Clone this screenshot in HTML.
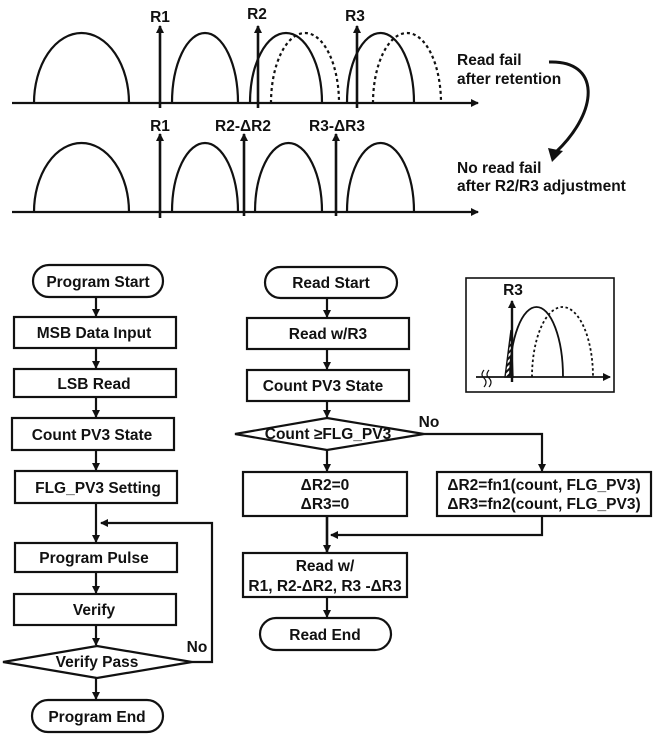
<!DOCTYPE html>
<html><head><meta charset="utf-8"><style>
html,body{margin:0;padding:0;background:#fff}
svg{display:block}
text{font-family:"Liberation Sans",Arial,sans-serif;font-weight:bold;fill:#111}
</style></head><body>
<svg width="657" height="735" viewBox="0 0 657 735" xmlns="http://www.w3.org/2000/svg">
<defs>
<marker id="ah" markerWidth="8" markerHeight="8" refX="7" refY="4" orient="auto" markerUnits="userSpaceOnUse"><path d="M0,0 L8,4 L0,8 z" fill="#111"/></marker>
<pattern id="hatch" width="4" height="4" patternUnits="userSpaceOnUse" patternTransform="rotate(45)"><rect width="4" height="4" fill="#fff"/><rect width="2" height="4" fill="#111"/></pattern>
</defs>
<g stroke="#111" fill="none" stroke-width="2.2">
<line x1="12" y1="103" x2="478" y2="103" marker-end="url(#ah)"/>
<path d="M34,103 A47.5,70 0 0 1 129,103"/>
<path d="M172,103 A33,70 0 0 1 238,103"/>
<path d="M250,103 A36,70 0 0 1 322,103"/>
<path d="M347,103 A33.5,70 0 0 1 414,103"/>
<path d="M271,103 A34,70 0 0 1 339,103" stroke-dasharray="3,3"/>
<path d="M373,103 A34,70 0 0 1 441,103" stroke-dasharray="3,3"/>
<line x1="160" y1="108" x2="160" y2="26" marker-end="url(#ah)" stroke-width="2.6"/>
<line x1="258" y1="108" x2="258" y2="26" marker-end="url(#ah)" stroke-width="2.6"/>
<line x1="357" y1="108" x2="357" y2="26" marker-end="url(#ah)" stroke-width="2.6"/>
<line x1="12" y1="212" x2="478" y2="212" marker-end="url(#ah)"/>
<path d="M34,212 A47.5,69 0 0 1 129,212"/>
<path d="M172,212 A33,69 0 0 1 238,212"/>
<path d="M255,212 A33.5,69 0 0 1 322,212"/>
<path d="M347,212 A33.5,69 0 0 1 414,212"/>
<line x1="160" y1="218" x2="160" y2="134" marker-end="url(#ah)" stroke-width="2.6"/>
<line x1="244" y1="216" x2="244" y2="134" marker-end="url(#ah)" stroke-width="2.6"/>
<line x1="336" y1="216" x2="336" y2="134" marker-end="url(#ah)" stroke-width="2.6"/>
<path d="M549,62 C600,60 600,110 556,152" stroke-width="3"/>
<path d="M548,148 L563,151 L552,162 z" fill="#111" stroke="none"/>

<rect x="33" y="265" width="130" height="32" rx="16"/>
<rect x="14" y="317" width="162" height="31"/>
<rect x="14" y="369" width="162" height="28"/>
<rect x="12" y="418" width="162" height="32"/>
<rect x="15" y="471" width="162" height="32"/>
<rect x="15" y="543" width="162" height="29"/>
<rect x="14" y="594" width="162" height="31"/>
<path d="M3,662 L97,646 L192,662 L97,678 z"/>
<rect x="32" y="700" width="131" height="32" rx="16"/>
<line x1="96" y1="297" x2="96" y2="316" marker-end="url(#ah)"/>
<line x1="96" y1="348" x2="96" y2="368" marker-end="url(#ah)"/>
<line x1="96" y1="397" x2="96" y2="417" marker-end="url(#ah)"/>
<line x1="96" y1="450" x2="96" y2="470" marker-end="url(#ah)"/>
<line x1="96" y1="503" x2="96" y2="542" marker-end="url(#ah)"/>
<line x1="96" y1="572" x2="96" y2="593" marker-end="url(#ah)"/>
<line x1="96" y1="625" x2="96" y2="645" marker-end="url(#ah)"/>
<line x1="96" y1="678" x2="96" y2="699" marker-end="url(#ah)"/>
<polyline points="192,662 212,662 212,523 101,523" marker-end="url(#ah)"/>

<rect x="265" y="267" width="132" height="31" rx="15.5"/>
<rect x="247" y="318" width="162" height="31"/>
<rect x="247" y="370" width="162" height="31"/>
<path d="M235,434 L327,418 L424,434 L327,450 z"/>
<rect x="243" y="472" width="164" height="44"/>
<rect x="437" y="472" width="214" height="44"/>
<rect x="243" y="553" width="164" height="44"/>
<rect x="260" y="618" width="131" height="32" rx="16"/>
<line x1="327" y1="298" x2="327" y2="317" marker-end="url(#ah)"/>
<line x1="327" y1="349" x2="327" y2="369" marker-end="url(#ah)"/>
<line x1="327" y1="401" x2="327" y2="417" marker-end="url(#ah)"/>
<line x1="327" y1="450" x2="327" y2="471" marker-end="url(#ah)"/>
<line x1="327" y1="516" x2="327" y2="552" marker-end="url(#ah)" stroke-width="2.6"/>
<line x1="327" y1="597" x2="327" y2="617" marker-end="url(#ah)"/>
<polyline points="424,434 542,434 542,471" marker-end="url(#ah)"/>
<polyline points="542,516 542,535 331,535" marker-end="url(#ah)"/>

<rect x="466" y="278" width="148" height="114" stroke-width="1.6"/>
<line x1="476" y1="377" x2="610" y2="377" marker-end="url(#ah)" stroke-width="1.8"/>
<path d="M505,377 L511,330 L513,377 z" fill="url(#hatch)" stroke-width="1.4"/>
<path d="M510,377 A26.5,70 0 0 1 563,377" stroke-width="1.8"/>
<path d="M532,377 A30.5,70 0 0 1 593,377" stroke-dasharray="2.5,2.5" stroke-width="1.8"/>
<line x1="512" y1="382" x2="512" y2="301" marker-end="url(#ah)" stroke-width="2.4"/>
<path d="M484,370 q-4,5 0,8 q4,4 0,9 M489,370 q-4,5 0,8 q4,4 0,9" stroke-width="1.2"/>
</g>

<g font-size="15.5">
<text x="160" y="22" text-anchor="middle">R1</text>
<text x="257" y="19" text-anchor="middle">R2</text>
<text x="355" y="21" text-anchor="middle">R3</text>
<text x="160" y="131" text-anchor="middle">R1</text>
<text x="243" y="131" text-anchor="middle">R2-ΔR2</text>
<text x="337" y="131" text-anchor="middle">R3-ΔR3</text>
<text x="457" y="65">Read fail</text>
<text x="457" y="84">after retention</text>
<text x="457" y="173">No read fail</text>
<text x="457" y="191">after R2/R3 adjustment</text>

<text x="98" y="287" text-anchor="middle">Program Start</text>
<text x="94" y="338" text-anchor="middle">MSB Data Input</text>
<text x="94" y="389" text-anchor="middle">LSB Read</text>
<text x="92" y="440" text-anchor="middle">Count PV3 State</text>
<text x="98" y="493" text-anchor="middle">FLG_PV3 Setting</text>
<text x="94" y="563" text-anchor="middle">Program Pulse</text>
<text x="94" y="615" text-anchor="middle">Verify</text>
<text x="97" y="667" text-anchor="middle">Verify Pass</text>
<text x="97" y="722" text-anchor="middle">Program End</text>
<text x="197" y="652" text-anchor="middle">No</text>

<text x="331" y="288" text-anchor="middle">Read Start</text>
<text x="328" y="339" text-anchor="middle">Read w/R3</text>
<text x="323" y="391" text-anchor="middle">Count PV3 State</text>
<text x="328" y="439" text-anchor="middle">Count ≥FLG_PV3</text>
<text x="429" y="427" text-anchor="middle">No</text>
<text x="325" y="490" text-anchor="middle">ΔR2=0</text>
<text x="325" y="509" text-anchor="middle">ΔR3=0</text>
<text x="544" y="490" text-anchor="middle">ΔR2=fn1(count, FLG_PV3)</text>
<text x="544" y="509" text-anchor="middle">ΔR3=fn2(count, FLG_PV3)</text>
<text x="325" y="571" text-anchor="middle">Read w/</text>
<text x="325" y="591" text-anchor="middle">R1, R2-ΔR2, R3 -ΔR3</text>
<text x="325" y="640" text-anchor="middle">Read End</text>
<text x="513" y="295" text-anchor="middle">R3</text>
</g>
</svg>
</body></html>
